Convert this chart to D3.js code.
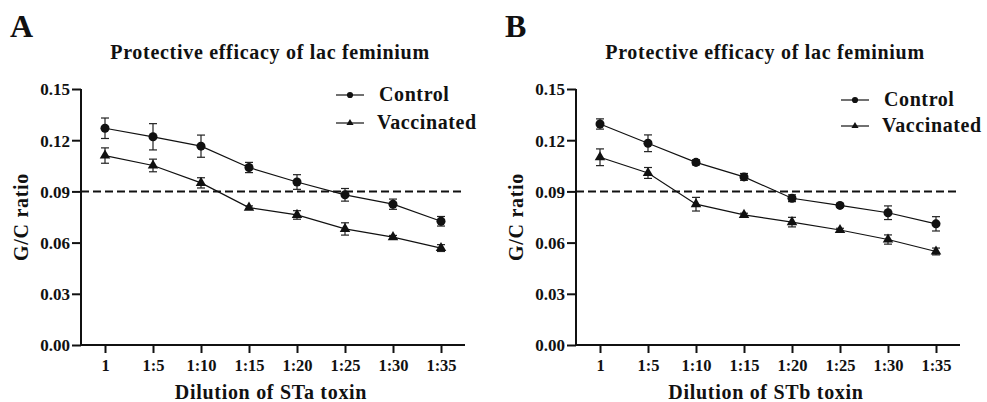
<!DOCTYPE html>
<html>
<head>
<meta charset="utf-8">
<script src="https://cdn.jsdelivr.net/npm/d3@7"></script>
<style>
  body { margin: 0; background: #fff; }
  svg { display: block; }
  text { font-family: "Liberation Serif", "Times New Roman", serif; font-weight: bold; fill: #111; }
</style>
</head>
<body>
<script>
// data
var dilutions = ["1", "1:5", "1:10", "1:15", "1:20", "1:25", "1:30", "1:35"];
var yTicks = [0, 0.03, 0.06, 0.09, 0.12, 0.15];
var cutoff = 0.09;

var staControl = [0.127, 0.122, 0.1165, 0.104, 0.0955, 0.088, 0.0825, 0.0725];
var staControlErr = [0.006, 0.0077, 0.0065, 0.003, 0.0043, 0.0037, 0.003, 0.0028];
var staVaccinated = [0.111, 0.1052, 0.095, 0.0805, 0.0762, 0.068, 0.0632, 0.0568];
var staVaccinatedErr = [0.0045, 0.0037, 0.003, 0.001, 0.0025, 0.0036, 0.001, 0.002];

var stbControl = [0.1295, 0.1182, 0.107, 0.0985, 0.086, 0.0818, 0.0775, 0.071];
var stbControlErr = [0.003, 0.0049, 0.0015, 0.002, 0.002, 0.001, 0.004, 0.0042];
var stbVaccinated = [0.110, 0.1008, 0.0825, 0.0762, 0.072, 0.0674, 0.0618, 0.0548];
var stbVaccinatedErr = [0.0049, 0.0032, 0.004, 0.001, 0.0028, 0.001, 0.0027, 0.002];

var width = 987, height = 402;
var svg = d3.select("body").append("svg")
	.attr("width", width)
	.attr("height", height);

var plotTop = 89, plotBottom = 345, plotW = 384;

var y = d3.scaleLinear().domain([0, 0.15]).range([plotBottom, plotTop]);

function drawPanel(opts) {
	var g = svg.append("g").attr("transform", "translate(" + opts.left + ",0)");
	var x = d3.scalePoint().domain(dilutions).range([0, plotW]).padding(0.5);

	// panel letter
	g.append("text")
		.attr("x", opts.letterX)
		.attr("y", 37)
		.style("font-size", "32px")
		.text(opts.letter);

	// title
	g.append("text")
		.attr("x", plotW / 2 - 3)
		.attr("y", 59)
		.attr("text-anchor", "middle")
		.attr("letter-spacing", 0.7)
		.style("font-size", "20px")
		.text("Protective efficacy of lac feminium");

	// y axis
	var yAxis = g.append("g")
		.call(d3.axisLeft(y).tickValues(yTicks).tickFormat(d3.format(".2f")).tickSize(9).tickPadding(2));
	// x axis
	var xAxis = g.append("g")
		.attr("transform", "translate(0," + plotBottom + ")")
		.call(d3.axisBottom(x).tickSize(8).tickPadding(5));

	[yAxis, xAxis].forEach(function(ax) {
		ax.select(".domain").attr("stroke", "#111").attr("stroke-width", 2);
		ax.selectAll(".tick line").attr("stroke", "#111").attr("stroke-width", 2);
		ax.selectAll("text")
			.attr("fill", "#111")
			.style("font-family", "'Liberation Serif', serif")
			.style("font-weight", "bold");
	});
	yAxis.selectAll("text").style("font-size", "17px").attr("dy", "0.35em");
	xAxis.selectAll("text").style("font-size", "16.5px").attr("dy", "0.8em");
	yAxis.select(".domain").attr("d", "M0," + plotTop + "V" + plotBottom);
	xAxis.select(".domain").attr("d", "M0,0H" + plotW);

	// axis titles
	g.append("text")
		.attr("x", plotW / 2 - 2)
		.attr("y", 399)
		.attr("text-anchor", "middle")
		.attr("letter-spacing", 0.7)
		.style("font-size", "20px")
		.text(opts.xTitle);

	g.append("text")
		.attr("transform", "translate(" + opts.yTitleX + "," + ((plotTop + plotBottom) / 2) + ") rotate(-90)")
		.attr("text-anchor", "middle")
		.attr("letter-spacing", 0.7)
		.style("font-size", "20px")
		.text("G/C ratio");

	// cutoff dashed line
	g.append("line")
		.attr("x1", 0).attr("x2", plotW)
		.attr("y1", y(cutoff)).attr("y2", y(cutoff))
		.attr("stroke", "#111")
		.attr("stroke-width", 2)
		.attr("stroke-dasharray", "8,4");

	var series = [
		{ vals: opts.control, err: opts.controlErr, sym: d3.symbolCircle, size: 64 },
		{ vals: opts.vaccinated, err: opts.vaccinatedErr, sym: d3.symbolTriangle, size: 48 }
	];

	var line = d3.line()
		.x(function(d, i) { return x(dilutions[i]); })
		.y(function(d) { return y(d); });

	series.forEach(function(s) {
		g.append("path")
			.datum(s.vals)
			.attr("d", line)
			.attr("fill", "none")
			.attr("stroke", "#111")
			.attr("stroke-width", 1.2);

		var eb = g.append("g").selectAll("g")
			.data(s.vals)
			.enter().append("g")
			.attr("stroke", "#222")
			.attr("stroke-width", 1.2);
		eb.append("line")
			.attr("x1", function(d, i) { return x(dilutions[i]); })
			.attr("x2", function(d, i) { return x(dilutions[i]); })
			.attr("y1", function(d, i) { return y(d + s.err[i]); })
			.attr("y2", function(d, i) { return y(d - s.err[i]); });
		[1, -1].forEach(function(sign) {
			eb.append("line")
				.attr("x1", function(d, i) { return x(dilutions[i]) - 4; })
				.attr("x2", function(d, i) { return x(dilutions[i]) + 4; })
				.attr("y1", function(d, i) { return y(d + sign * s.err[i]); })
				.attr("y2", function(d, i) { return y(d + sign * s.err[i]); });
		});

		g.append("g").selectAll("path")
			.data(s.vals)
			.enter().append("path")
			.attr("d", d3.symbol().type(s.sym).size(s.size))
			.attr("transform", function(d, i) {
				return "translate(" + x(dilutions[i]) + "," + y(d) + ")";
			})
			.attr("fill", "#111");
	});

	// legend
	var legendItems = [
		{ name: "Control", sym: d3.symbolCircle, size: 30 },
		{ name: "Vaccinated", sym: d3.symbolTriangle, size: 22 }
	];
	var lg = g.append("g")
		.attr("transform", "translate(" + opts.legendX + "," + opts.legendY + ")");
	var item = lg.selectAll("g")
		.data(legendItems)
		.enter().append("g")
		.attr("transform", function(d, i) { return "translate(0," + (i * opts.legendGap) + ")"; });
	item.append("line")
		.attr("x1", -14).attr("x2", 14)
		.attr("stroke", "#111")
		.attr("stroke-width", 1.2);
	item.append("path")
		.attr("d", function(d) { return d3.symbol().type(d.sym).size(d.size)(); })
		.attr("fill", "#111");
	item.append("text")
		.attr("x", function(d, i) { return i == 0 ? 29 : 27; })
		.attr("y", 6)
		.attr("letter-spacing", 0.6)
		.style("font-size", "20px")
		.text(function(d) { return d.name; });
}

drawPanel({
	left: 81, letter: "A", letterX: -71, yTitleX: -53,
	xTitle: "Dilution of STa toxin",
	control: staControl, controlErr: staControlErr,
	vaccinated: staVaccinated, vaccinatedErr: staVaccinatedErr,
	legendX: 269, legendY: 95, legendGap: 28
});

drawPanel({
	left: 576, letter: "B", letterX: -71, yTitleX: -53,
	xTitle: "Dilution of STb toxin",
	control: stbControl, controlErr: stbControlErr,
	vaccinated: stbVaccinated, vaccinatedErr: stbVaccinatedErr,
	legendX: 279, legendY: 100, legendGap: 26
});
</script>
</body>
</html>
